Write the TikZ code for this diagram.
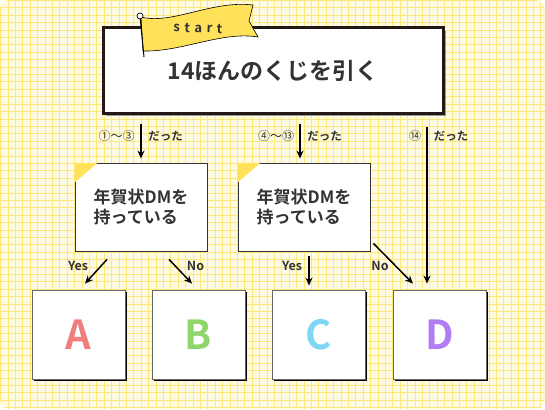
\documentclass[tikz,border=0pt]{standalone}
\usepackage{fontspec}
\setmainfont{Noto Sans CJK JP}[BoldFont={Noto Sans CJK JP Bold}]
\usetikzlibrary{shadows,arrows.meta,calc}
\definecolor{bg}{HTML}{FFFBE2}
\definecolor{gridc}{HTML}{FDE87E}
\definecolor{flagy}{HTML}{FFE25A}
\definecolor{ink}{HTML}{333333}
\definecolor{frame}{HTML}{231815}
\definecolor{cA}{HTML}{F07E7E}
\definecolor{cB}{HTML}{8ED66C}
\definecolor{cC}{HTML}{7ED7F4}
\definecolor{cD}{HTML}{B07EF2}
\tikzset{
  resbox/.style={draw=black!60, line width=0.8pt, fill=white, minimum width=93pt, minimum height=89pt,
    general shadow={fill=black, shadow xshift=1.5pt, shadow yshift=-1.5pt},
    font=\bfseries\fontsize{40}{40}\selectfont},
  decbox/.style={draw=black!80, line width=0.8pt, fill=white, minimum width=132pt, minimum height=88pt,
    general shadow={fill=black, shadow xshift=1.4pt, shadow yshift=-1.4pt},
    font=\bfseries\fontsize{17}{19.5}\selectfont, text=ink, align=left},
  arr/.style={-{Stealth[length=8pt,width=7pt]}, line width=1.5pt, black},
  lbl/.style={font=\bfseries\fontsize{11.5}{12}\selectfont, text=ink, inner sep=0pt},
  yn/.style={font=\bfseries\fontsize{12.5}{13}\selectfont, text=ink, inner sep=0pt},
  num/.style={font=\fontsize{12}{12}\selectfont, text=ink, inner sep=0pt},
}
\begin{document}
\begin{tikzpicture}[x=1pt,y=-1pt]
\useasboundingbox (0,0) rectangle (545,409);
% background grid
\begin{scope}
\clip[rounded corners=9pt] (0,0) rectangle (545,409);
\fill[bg] (0,0) rectangle (545,409);
\foreach \i in {0,...,74} {
  \draw[gridc, line width=0.8pt] (\i*7.4+0.5,0) -- (\i*7.4+0.5,409);
  \draw[gridc, line width=0.8pt] (0,\i*7.4+0.5) -- (545,\i*7.4+0.5);
}
\end{scope}
% top box
\fill[black!40] (106,31) rectangle (446,116);
\node[draw=frame, line width=3pt, fill=white, minimum width=340pt, minimum height=85pt,
  font=\bfseries\fontsize{23}{24}\selectfont, text=ink] (top) at (273,70.5) {14ほんのくじを引く};
% flag
\draw[black, line width=0.6pt, fill=flagy] (141,17) .. controls (172,25) and (212,0) .. (253,5)
  -- (249,21) -- (258,37) .. controls (222,31) and (182,52) .. (143,51) -- cycle;
\draw[black, line width=1pt] (140,16) -- (144,57);
\draw[black, line width=0.7pt, fill=white] (140,16) circle (3);
\node[font=\bfseries\fontsize{13}{13}\selectfont, text=ink, rotate=-2] (flagtxt) at (198,28)
  {s\hspace{4.5pt}t\hspace{4.5pt}a\hspace{4.5pt}r\hspace{4.5pt}t};
% decision boxes
\node[decbox] (d1) at (141,207) {年賀状DMを\\持っている};
\node[decbox] (d2) at (304,207) {年賀状DMを\\持っている};
\fill[flagy] (d1.north west) ++(0.5,0.5) -- ++(22,0) -- ++(-22,19) -- cycle;
\fill[flagy] (d2.north west) ++(0.5,0.5) -- ++(22,0) -- ++(-22,19) -- cycle;
% result boxes
\node[resbox, text=cA] (A) at (78.5,334.5) {A};
\node[resbox, text=cB] (B) at (198.5,334.5) {B};
\node[resbox, text=cC] (C) at (318.5,334.5) {C};
\node[resbox, text=cD] (D) at (439.5,334.5) {D};
% arrows from top
\draw[arr] ($(d1.north)+(0,-39)$) -- ($(d1.north)+(0,-4)$);
\draw[arr] ($(d2.north)+(-4,-39)$) -- ($(d2.north)+(-4,-4)$);
\draw[arr] ($(D.north)+(-12.5,-163)$) -- ($(D.north)+(-12.5,-6)$);
\node[num] (n1) at (116.5,136) {①〜③};
\node[lbl] (t1) at (165.5,136) {だった};
\node[num] (n2) at (276,136) {④〜⑬};
\node[lbl] (t2) at (324.5,136) {だった};
\node[num] (n3) at (415,136) {⑭};
\node[lbl] (t3) at (451,136) {だった};
% yes/no arrows
\draw[arr] ($(d1.south)+(-34,8)$) -- ($(A.north)+(6.5,-6)$);
\draw[arr] ($(d1.south)+(28,8)$) -- ($(B.north)+(-6.5,-6)$);
\draw[arr] ($(d2.south)+(5,5)$) -- ($(C.north)+(-9.5,-4)$);
\draw[arr] ($(d2.south east)+(3,-8)$) -- ($(D.north)+(-26.5,-6)$);
\node[yn] (y1) at (78,266) {Yes};
\node[yn] (o1) at (195.5,266) {No};
\node[yn] (y2) at (292,266) {Yes};
\node[yn] (o2) at (380,266) {No};
\end{tikzpicture}
\end{document}
